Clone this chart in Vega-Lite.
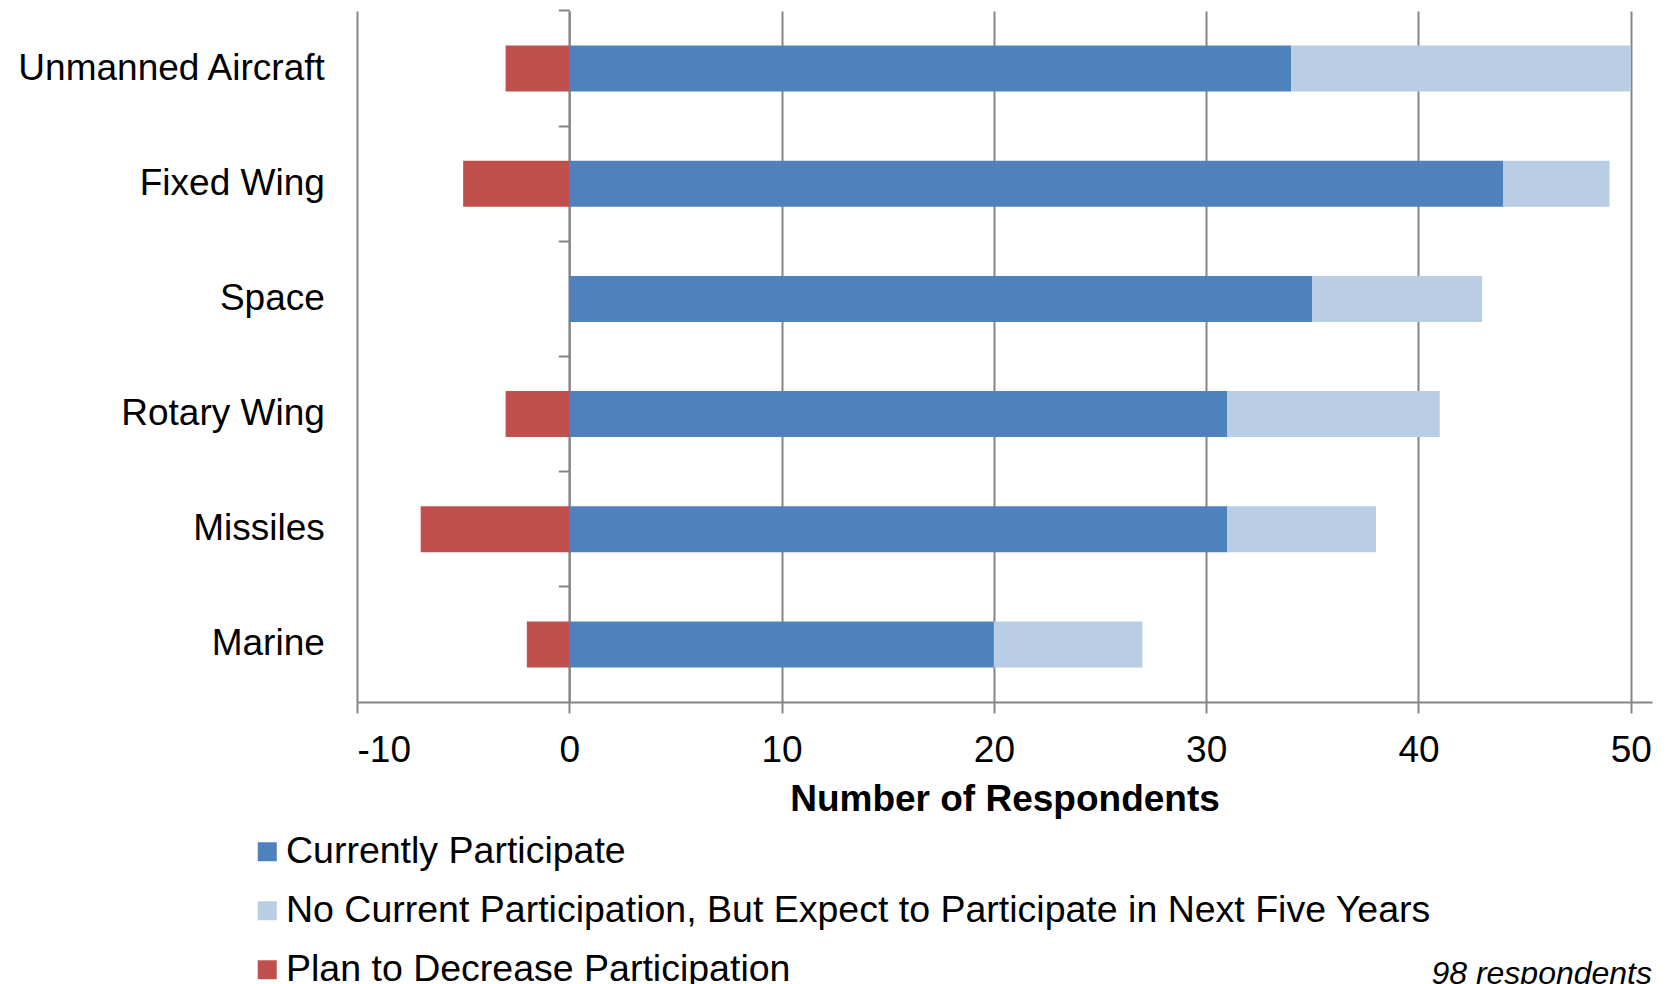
{
  "$schema": "https://vega.github.io/schema/vega-lite/v6.json",
  "width": 1295,
  "height": 691,
  "autosize": {"type": "none"},
  "padding": {"left": 357, "top": 11, "right": 15, "bottom": 282},
  "title": {
    "text": "98 respondents",
    "orient": "bottom",
    "anchor": "end",
    "frame": "group",
    "offset": -30,
    "fontSize": 32,
    "fontStyle": "italic",
    "fontWeight": "normal",
    "font": "Liberation Sans",
    "color": "#000000"
  },
  "data": {
    "values": [
      {"category": "Unmanned Aircraft", "series": "Currently Participate", "count": 34},
      {"category": "Unmanned Aircraft", "series": "No Current Participation, But Expect to Participate in Next Five Years", "count": 16},
      {"category": "Unmanned Aircraft", "series": "Plan to Decrease Participation", "count": -3},
      {"category": "Fixed Wing", "series": "Currently Participate", "count": 44},
      {"category": "Fixed Wing", "series": "No Current Participation, But Expect to Participate in Next Five Years", "count": 5},
      {"category": "Fixed Wing", "series": "Plan to Decrease Participation", "count": -5},
      {"category": "Space", "series": "Currently Participate", "count": 35},
      {"category": "Space", "series": "No Current Participation, But Expect to Participate in Next Five Years", "count": 8},
      {"category": "Rotary Wing", "series": "Currently Participate", "count": 31},
      {"category": "Rotary Wing", "series": "No Current Participation, But Expect to Participate in Next Five Years", "count": 10},
      {"category": "Rotary Wing", "series": "Plan to Decrease Participation", "count": -3},
      {"category": "Missiles", "series": "Currently Participate", "count": 31},
      {"category": "Missiles", "series": "No Current Participation, But Expect to Participate in Next Five Years", "count": 7},
      {"category": "Missiles", "series": "Plan to Decrease Participation", "count": -7},
      {"category": "Marine", "series": "Currently Participate", "count": 20},
      {"category": "Marine", "series": "No Current Participation, But Expect to Participate in Next Five Years", "count": 7},
      {"category": "Marine", "series": "Plan to Decrease Participation", "count": -2}
    ]
  },
  "mark": {"type": "bar"},
  "encoding": {
    "y": {
      "field": "category",
      "type": "nominal",
      "sort": ["Unmanned Aircraft", "Fixed Wing", "Space", "Rotary Wing", "Missiles", "Marine"],
      "scale": {"paddingInner": 0.6, "paddingOuter": 0.3},
      "axis": {
        "title": null,
        "orient": "left",
        "offset": -212.3,
        "bandPosition": -0.75,
        "tickSize": 11,
        "tickColor": "#868686",
        "tickWidth": 2,
        "domainColor": "#868686",
        "domainWidth": 2,
        "labelPadding": 234,
        "labelFontSize": 37,
        "labelColor": "#000000",
        "labelLimit": 0,
        "grid": false
      }
    },
    "x": {
      "field": "count",
      "type": "quantitative",
      "stack": "zero",
      "scale": {"domain": [-10, 51], "nice": false, "zero": false},
      "axis": {
        "title": "Number of Respondents",
        "titleFontSize": 37,
        "titleFontWeight": "bold",
        "titleColor": "#000000",
        "titlePadding": 13,
        "values": [-10, 0, 10, 20, 30, 40, 50],
        "labelExpr": "toString(datum.value)",
        "tickSize": 11,
        "tickColor": "#868686",
        "tickWidth": 2,
        "domainColor": "#868686",
        "domainWidth": 2,
        "labelPadding": 19,
        "labelFontSize": 37,
        "labelColor": "#000000",
        "grid": true,
        "gridColor": "#868686",
        "gridWidth": 2
      }
    },
    "color": {
      "field": "series",
      "type": "nominal",
      "scale": {
        "domain": ["Currently Participate", "No Current Participation, But Expect to Participate in Next Five Years", "Plan to Decrease Participation"],
        "range": ["#4F81BD", "#B9CDE5", "#C0504D"]
      },
      "legend": {
        "title": null,
        "orient": "none",
        "legendX": -108.5,
        "legendY": 822,
        "direction": "vertical",
        "labelFontSize": 37.5,
        "labelColor": "#000000",
        "labelLimit": 0,
        "labelOffset": 0,
        "symbolType": "square",
        "symbolSize": 361,
        "symbolStrokeWidth": 0,
        "rowPadding": 20,
        "padding": 0
      }
    }
  },
  "config": {
    "font": "Liberation Sans",
    "view": {"stroke": null}
  }
}
